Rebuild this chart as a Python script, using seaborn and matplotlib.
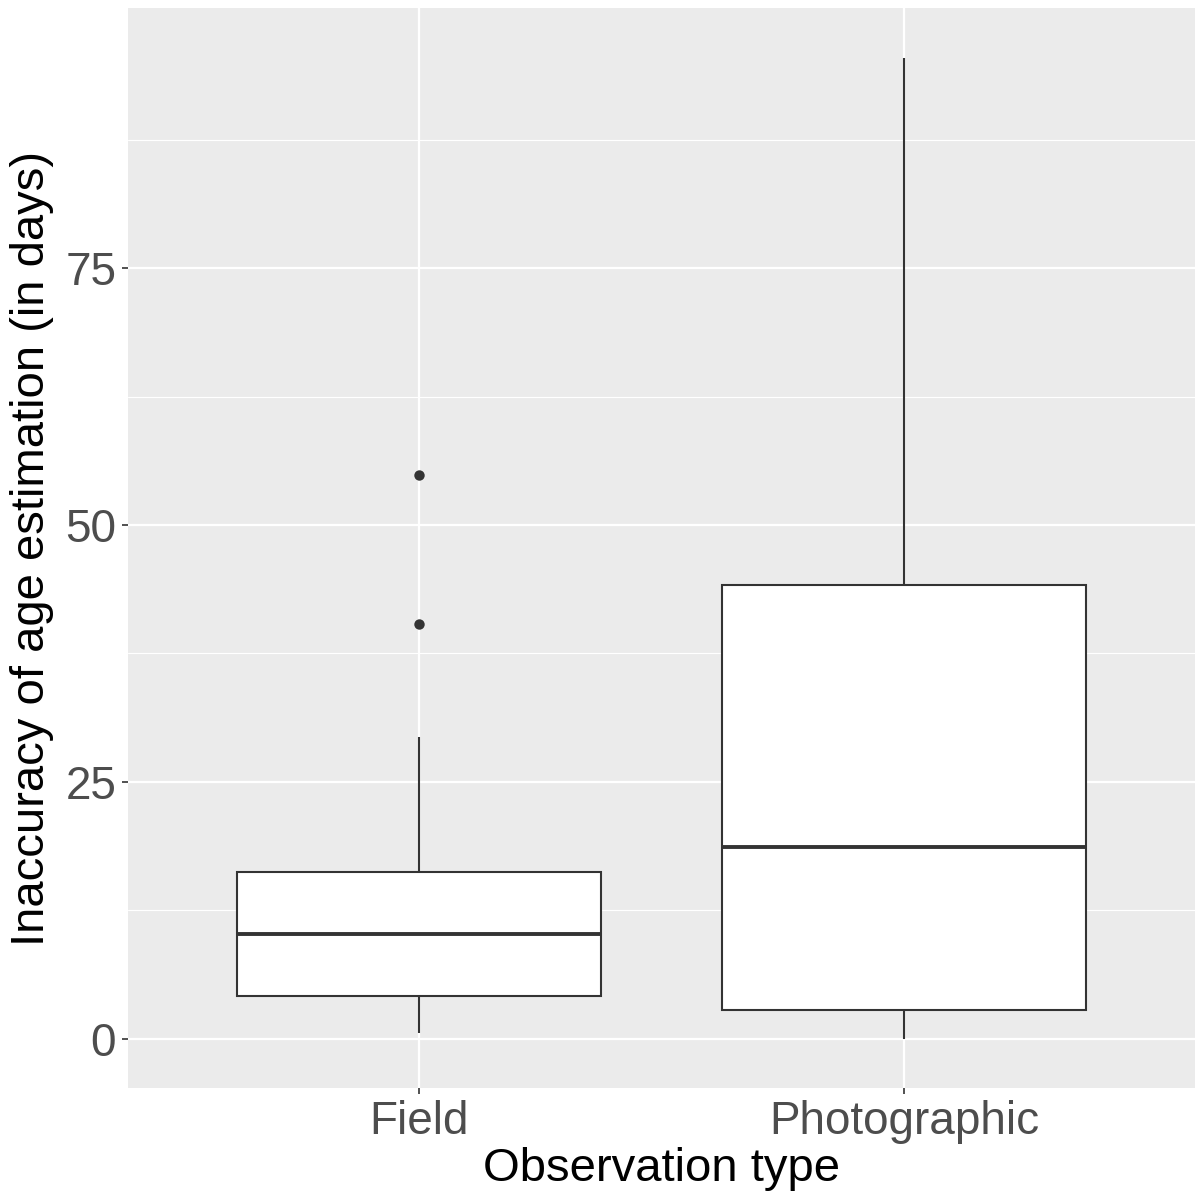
import numpy as np
import pandas as pd
import matplotlib
matplotlib.use("Agg")
import matplotlib.pyplot as plt
import seaborn as sns

# ---- data ----
categories = ["Field", "Photographic"]
whisker_low = [0.6, 0.0]
q1 = [4.2, 2.8]
median = [10.2, 18.7]
q3 = [16.2, 44.2]
whisker_high = [29.4, 95.4]
outlier_cat = ["Field", "Field"]
outlier_val = [54.9, 40.4]
y_ticks = [0, 25, 50, 75]
y_minor = [12.5, 37.5, 62.5, 87.5]

rows = []
for i, c in enumerate(categories):
    for v in (whisker_low[i], q1[i], median[i], q3[i], whisker_high[i]):
        rows.append({"type": c, "value": v})
df = pd.DataFrame(rows)
out_df = pd.DataFrame({"type": outlier_cat, "value": outlier_val})

sns.set_theme(style="darkgrid")
plt.rcParams["font.family"] = ["Liberation Sans", "DejaVu Sans"]

fig = plt.figure(figsize=(11.95, 11.98), dpi=100)
ax = fig.add_axes([128 / 1195, 110 / 1198, 1067 / 1195, 1080 / 1198])
ax.set_facecolor("#EBEBEB")

line_col = "#333333"
sns.boxplot(data=df, x="type", y="value", order=categories, ax=ax,
            width=0.75, color="white", linecolor=line_col, linewidth=1.5,
            whis=np.inf, showcaps=False, fill=True,
            boxprops=dict(facecolor="white", edgecolor=line_col, zorder=3),
            medianprops=dict(linewidth=2.8, color=line_col, zorder=4),
            whiskerprops=dict(linewidth=1.5, color=line_col, zorder=3))
sns.stripplot(data=out_df, x="type", y="value", order=categories, ax=ax,
              jitter=False, color=line_col, size=7.5, linewidth=0, zorder=5)

ax.set_xlim(-0.6, 1.6)
ax.set_ylim(-4.78, 100.3)
ax.set_yticks(y_ticks)
ax.set_yticks(y_minor, minor=True)
ax.grid(False)
ax.set_axisbelow(True)
ax.yaxis.grid(True, which="major", color="white", linewidth=1.6)
ax.yaxis.grid(True, which="minor", color="white", linewidth=0.8)
ax.xaxis.grid(True, which="major", color="white", linewidth=1.6)
for s in ax.spines.values():
    s.set_visible(False)

ax.tick_params(axis="both", which="major", length=4.5, width=1.2,
               color=line_col, labelsize=33, labelcolor="#4D4D4D", pad=4,
               left=True, bottom=True)
ax.tick_params(axis="y", which="minor", length=0)
ax.set_xlabel("Observation type", fontsize=34, color="black", labelpad=2)
ax.set_ylabel("Inaccuracy of age estimation (in days)", fontsize=34,
              color="black", labelpad=8)

fig.savefig("out.png", dpi=100, facecolor="white")
